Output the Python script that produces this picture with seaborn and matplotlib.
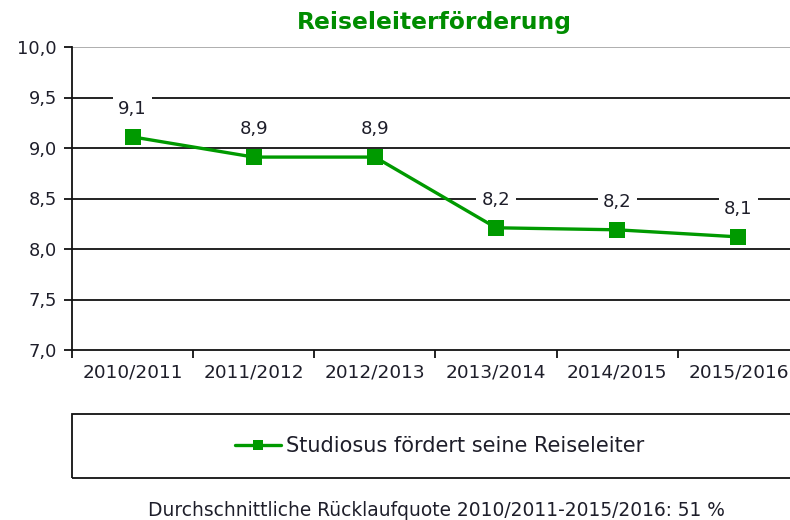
import matplotlib
matplotlib.use("Agg")
import matplotlib.pyplot as plt
from matplotlib.patches import Rectangle
from matplotlib.lines import Line2D
import seaborn as sns
import pandas as pd

# Data
seasons = ["2010/2011", "2011/2012", "2012/2013", "2013/2014", "2014/2015", "2015/2016"]
scores = [9.11, 8.91, 8.91, 8.21, 8.19, 8.12]
y_ticks = [7.0, 7.5, 8.0, 8.5, 9.0, 9.5, 10.0]
series_name = "Studiosus fördert seine Reiseleiter"
title_text = "Reiseleiterförderung"
footer_text = "Durchschnittliche Rücklaufquote 2010/2011-2015/2016: 51 %"

GREEN = "#009a00"
TITLE_GREEN = "#008c00"
TEXT = "#1e1e2a"

sns.set_theme(style="white")
plt.rcParams["font.family"] = ["DejaVu Sans"]

fig = plt.figure(figsize=(7.9, 5.2), dpi=100)
W, H = 790, 520
ax = fig.add_axes([72 / W, 1 - 350 / H, 727 / W, 303 / H])

df = pd.DataFrame({"Saison": seasons, "Wert": scores})

# horizontal grid
for yv in y_ticks[1:-1]:
    ax.axhline(yv, color="#111111", lw=1.3, zorder=1)
ax.axhline(10.0, color="#a8a8a8", lw=1.3, zorder=1)

sns.lineplot(data=df, x="Saison", y="Wert", ax=ax, color=GREEN, lw=2.4,
             marker="s", markersize=11, markeredgewidth=0, zorder=3,
             sort=False, legend=False)

# value labels on white boxes that interrupt the grid
for i, v in enumerate(scores):
    ax.annotate(f"{v:.1f}".replace(".", ","), xy=(i, v), xytext=(0, 28),
                textcoords="offset pixels",
                ha="center", va="center", fontsize=13, color=TEXT, zorder=4,
                bbox=dict(boxstyle="square,pad=0.3", fc="white", ec="none"))

ax.set_xlim(-0.5, len(seasons) - 0.5)
ax.set_ylim(7.0, 10.0)
ax.set_yticks(y_ticks)
ax.set_yticklabels([f"{t:.1f}".replace(".", ",") for t in y_ticks],
                   fontsize=12.8, color=TEXT)
ax.set_xticks(range(len(seasons)))
ax.set_xticklabels(seasons, fontsize=13.3, color=TEXT)
ax.set_xticks([i - 0.5 for i in range(len(seasons) + 1)], minor=True)
ax.tick_params(axis="x", which="major", length=0, pad=10)
ax.tick_params(axis="x", which="minor", length=6, width=1.3, color="#111111",
               direction="out", bottom=True)
ax.tick_params(axis="y", which="major", length=6, width=1.3, color="#111111",
               direction="out", left=True, pad=5)
ax.set_xlabel("")
ax.set_ylabel("")

for side in ["top", "right"]:
    ax.spines[side].set_visible(False)
for side in ["left", "bottom"]:
    ax.spines[side].set_color("#111111")
    ax.spines[side].set_linewidth(1.3)

# title
fig.text(434 / W, 1 - 22 / H, title_text, ha="center", va="center",
         fontsize=16.8, fontweight="bold", color=TITLE_GREEN)

# legend box below the plot
fig.patches.append(Rectangle((72 / W, 1 - 478 / H), 740 / W, 64 / H,
                             transform=fig.transFigure, fill=False,
                             ec="#111111", lw=1.3))
handle = Line2D([], [], color=GREEN, lw=2.4, marker="s", markersize=7,
                markeredgewidth=0)
fig.legend([handle], [series_name], loc="center",
           bbox_to_anchor=(440 / W, 1 - 446 / H), frameon=False,
           fontsize=15, handlelength=2.2, handletextpad=0.25,
           labelcolor=TEXT)

fig.text(436 / W, 1 - 510 / H, footer_text, ha="center", va="center",
         fontsize=13.4, color=TEXT)

fig.savefig("out.png", dpi=100)
